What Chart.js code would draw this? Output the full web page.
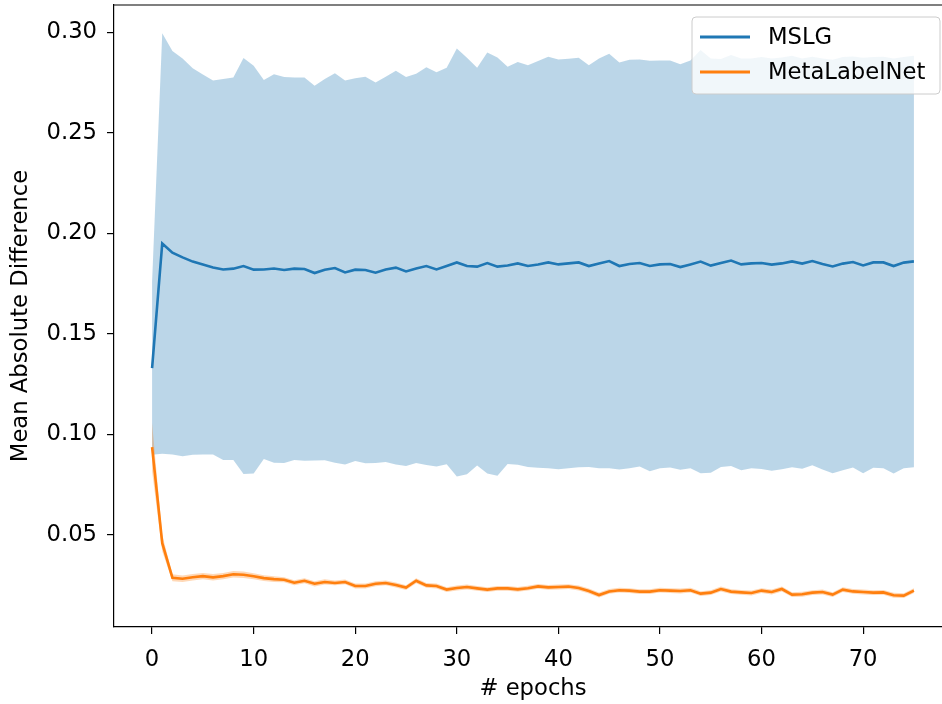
<!DOCTYPE html>
<html>
<head>
<meta charset="utf-8">
<script src="https://cdn.jsdelivr.net/npm/chart.js@4.4.1/dist/chart.umd.min.js"></script>
<style>
html, body { margin: 0; padding: 0; background: #fff; overflow: hidden; }
#wrap { position: relative; width: 960px; height: 704px; }
</style>
</head>
<body>
<div id="wrap"><canvas id="MeanAbsDiff"></canvas></div>
<script>
// epochs on the x axis
var epochs = [0, 1, 2, 3, 4, 5, 6, 7, 8, 9, 10, 11, 12, 13, 14, 15, 16, 17, 18, 19,
  20, 21, 22, 23, 24, 25, 26, 27, 28, 29, 30, 31, 32, 33, 34, 35, 36, 37, 38, 39,
  40, 41, 42, 43, 44, 45, 46, 47, 48, 49, 50, 51, 52, 53, 54, 55, 56, 57, 58, 59,
  60, 61, 62, 63, 64, 65, 66, 67, 68, 69, 70, 71, 72, 73, 74, 75];

// MSLG mean and std
var mslgMean = [0.133, 0.1950, 0.1904, 0.1881, 0.1860, 0.1846, 0.1831, 0.1821, 0.1825, 0.1838,
  0.1820, 0.1821, 0.1826, 0.1818, 0.1825, 0.1823, 0.1803, 0.1820, 0.1828, 0.1806,
  0.1820, 0.1818, 0.1805, 0.1821, 0.1830, 0.1811, 0.1826, 0.1838, 0.1821, 0.1838,
  0.1856, 0.1838, 0.1835, 0.1853, 0.1835, 0.1841, 0.1851, 0.1838, 0.1846, 0.1856,
  0.1846, 0.1851, 0.1856, 0.1838, 0.1851, 0.1863, 0.1838, 0.1848, 0.1853, 0.1838,
  0.1846, 0.1848, 0.1833, 0.1846, 0.1860, 0.1840, 0.1853, 0.1865, 0.1846, 0.1851,
  0.1853, 0.1845, 0.1851, 0.1861, 0.1850, 0.1863, 0.1848, 0.1836, 0.1850, 0.1858,
  0.1841, 0.1856, 0.1856, 0.1838, 0.1855, 0.1861];
var mslgStd = [0.043, 0.1045, 0.1003, 0.0989, 0.0961, 0.0945, 0.0930, 0.0947, 0.0951, 0.1034,
  0.1014, 0.0942, 0.0966, 0.0960, 0.0951, 0.0953, 0.0932, 0.0948, 0.0968, 0.0955,
  0.0952, 0.0961, 0.0946, 0.0958, 0.0979, 0.0967, 0.0968, 0.0989, 0.0980, 0.0986,
  0.1064, 0.1036, 0.0989, 0.1047, 0.1040, 0.0988, 0.1001, 0.0999, 0.1011, 0.1023,
  0.1019, 0.1018, 0.1018, 0.0999, 0.1019, 0.1030, 0.1012, 0.1016, 0.1012, 0.1021,
  0.1014, 0.1012, 0.1008, 0.1014, 0.1052, 0.1030, 0.1014, 0.1022, 0.1024, 0.1019,
  0.1024, 0.1025, 0.1024, 0.1023, 0.1020, 0.1016, 0.1022, 0.1028, 0.1027, 0.1022,
  0.1033, 0.1021, 0.1023, 0.1032, 0.1022, 0.1023];

// MetaLabelNet mean and std
var mlnMean = [0.0938, 0.0460, 0.0288, 0.0283, 0.0290, 0.0296, 0.0290, 0.0296, 0.0305, 0.0303,
  0.0295, 0.0286, 0.0281, 0.0278, 0.0263, 0.0273, 0.0258, 0.0267, 0.0262, 0.0267,
  0.0247, 0.0247, 0.0258, 0.0262, 0.0252, 0.0239, 0.0273, 0.0250, 0.0247, 0.0229,
  0.0237, 0.0242, 0.0235, 0.0229, 0.0235, 0.0235, 0.0230, 0.0236, 0.0245, 0.0240,
  0.0242, 0.0244, 0.0237, 0.0222, 0.0202, 0.0220, 0.0226, 0.0224, 0.0219, 0.0219,
  0.0226, 0.0224, 0.0222, 0.0226, 0.0209, 0.0214, 0.0232, 0.0219, 0.0215, 0.0212,
  0.0224, 0.0217, 0.0232, 0.0204, 0.0206, 0.0214, 0.0217, 0.0204, 0.0229, 0.0220,
  0.0217, 0.0214, 0.0215, 0.0201, 0.0199, 0.0224];
var mlnStd = [0.012, 0.004, 0.0017, 0.0016, 0.0016, 0.0016, 0.0016, 0.0016, 0.0016, 0.0016,
  0.0015, 0.0014, 0.0014, 0.0013, 0.0013, 0.0013, 0.0013, 0.0013, 0.0012, 0.0012,
  0.0012, 0.0012, 0.0012, 0.0012, 0.0012, 0.0012, 0.0012, 0.0012, 0.0012, 0.0012,
  0.0012, 0.0012, 0.0012, 0.0012, 0.0012, 0.0012, 0.0012, 0.0012, 0.0012, 0.0012,
  0.0012, 0.0012, 0.0012, 0.0012, 0.0012, 0.0012, 0.0012, 0.0012, 0.0012, 0.0012,
  0.0012, 0.0012, 0.0012, 0.0012, 0.0012, 0.0012, 0.0012, 0.0012, 0.0012, 0.0012,
  0.0012, 0.0012, 0.0012, 0.0012, 0.0012, 0.0012, 0.0012, 0.0012, 0.0012, 0.0012,
  0.0012, 0.0012, 0.0012, 0.0012, 0.0012, 0.0012];

var xTicks = [0, 10, 20, 30, 40, 50, 60, 70];
var yTicks = [0.05, 0.10, 0.15, 0.20, 0.25, 0.30];

var FONT = "'DejaVu Sans', sans-serif";
var FSIZE = 22.7;

function pts(arr) {
  return epochs.map(function(e, i) { return { x: e, y: arr[i] }; });
}
function band(mean, std, sign) {
  return epochs.map(function(e, i) { return { x: e, y: mean[i] + sign * std[i] }; });
}
function noPad(s) {
  s.paddingTop = 0; s.paddingBottom = 0; s.paddingLeft = 0; s.paddingRight = 0;
}

// top spine (left and bottom come from the axes, right one is cut off)
var framePlugin = {
  id: "frame",
  afterDatasetsDraw: function(chart) {
    var a = chart.chartArea, c = chart.ctx;
    c.save();
    c.strokeStyle = "#000";
    c.lineWidth = 1.2;
    c.beginPath();
    c.moveTo(a.left, a.top);
    c.lineTo(a.right, a.top);
    c.stroke();
    c.restore();
  }
};

// matplotlib style legend in the upper right corner
var legendPlugin = {
  id: "mplLegend",
  afterDatasetsDraw: function(chart) {
    var a = chart.chartArea, c = chart.ctx;
    var items = chart.data.datasets.filter(function(d) { return d.inLegend; });
    var w = 248, h = 77;
    var x = 940 - w, y = a.top + 12;
    c.save();
    c.beginPath();
    c.roundRect(x, y, w, h, 4);
    c.fillStyle = "rgba(255,255,255,0.8)";
    c.fill();
    c.strokeStyle = "#cccccc";
    c.lineWidth = 1;
    c.stroke();
    c.font = FSIZE + "px " + FONT;
    c.textBaseline = "middle";
    items.forEach(function(d, i) {
      var ly = y + 20 + i * 35;
      c.strokeStyle = d.borderColor;
      c.lineWidth = 3;
      c.beginPath();
      c.moveTo(x + 8, ly);
      c.lineTo(x + 58, ly);
      c.stroke();
      c.fillStyle = "#000";
      c.fillText(d.label, x + 76, ly + 1);
    });
    c.restore();
  }
};

var ctx = document.getElementById("MeanAbsDiff").getContext("2d");
var myChart = new Chart(ctx, {
  type: "line",
  data: {
    datasets: [
      {
        label: "MSLG",
        inLegend: true,
        data: pts(mslgMean),
        borderColor: "#1f77b4",
        borderWidth: 2.6,
        pointRadius: 0,
        fill: false,
        tension: 0,
        order: 2,
      },
      {
        label: "MSLG upper",
        data: band(mslgMean, mslgStd, 1),
        borderWidth: 0,
        pointRadius: 0,
        backgroundColor: "rgba(31,119,180,0.3)",
        fill: "+1",
        order: 4,
      },
      {
        label: "MSLG lower",
        data: band(mslgMean, mslgStd, -1),
        borderWidth: 0,
        pointRadius: 0,
        fill: false,
        order: 4,
      },
      {
        label: "MetaLabelNet",
        inLegend: true,
        data: pts(mlnMean),
        borderColor: "#ff7f0e",
        borderWidth: 2.6,
        pointRadius: 0,
        fill: false,
        tension: 0,
        order: 1,
      },
      {
        label: "MetaLabelNet upper",
        data: band(mlnMean, mlnStd, 1),
        borderWidth: 0,
        pointRadius: 0,
        backgroundColor: "rgba(255,127,14,0.3)",
        fill: "+1",
        order: 3,
      },
      {
        label: "MetaLabelNet lower",
        data: band(mlnMean, mlnStd, -1),
        borderWidth: 0,
        pointRadius: 0,
        fill: false,
        order: 3,
      },
    ],
  },
  options: {
    responsive: true,
    maintainAspectRatio: false,
    animation: false,
    layout: { padding: { top: 5, right: 8, left: 0, bottom: 0 } },
    plugins: {
      legend: { display: false },
      tooltip: { enabled: false },
    },
    scales: {
      x: {
        type: "linear",
        min: -3.75,
        max: 78.75,
        afterBuildTicks: function(s) { s.ticks = xTicks.map(function(v) { return { value: v }; }); },
        afterFit: function(s) { s.height = 77; noPad(s); },
        grid: { drawOnChartArea: false, drawTicks: true, tickLength: 7, color: "#000", lineWidth: 1.2 },
        border: { display: true, color: "#000", width: 1.2 },
        ticks: { color: "#000", padding: 12, maxRotation: 0, font: { family: FONT, size: FSIZE },
          callback: function(v) { return String(v); } },
        title: { display: true, text: "# epochs", color: "#000", padding: { top: 2, bottom: 1 },
          font: { family: FONT, size: FSIZE } },
      },
      y: {
        type: "linear",
        min: 0.0043,
        max: 0.3136,
        afterBuildTicks: function(s) { s.ticks = yTicks.map(function(v) { return { value: v }; }); },
        afterFit: function(s) { s.width = 114; noPad(s); },
        grid: { drawOnChartArea: false, drawTicks: true, tickLength: 7, color: "#000", lineWidth: 1.2 },
        border: { display: true, color: "#000", width: 1.2 },
        ticks: { color: "#000", padding: 10, font: { family: FONT, size: FSIZE },
          callback: function(v) { return v.toFixed(2); } },
        title: { display: true, text: "Mean Absolute Difference", color: "#000", padding: { top: 7, bottom: 0 },
          font: { family: FONT, size: FSIZE } },
      },
    },
  },
  plugins: [framePlugin, legendPlugin],
});
</script>
</body>
</html>
